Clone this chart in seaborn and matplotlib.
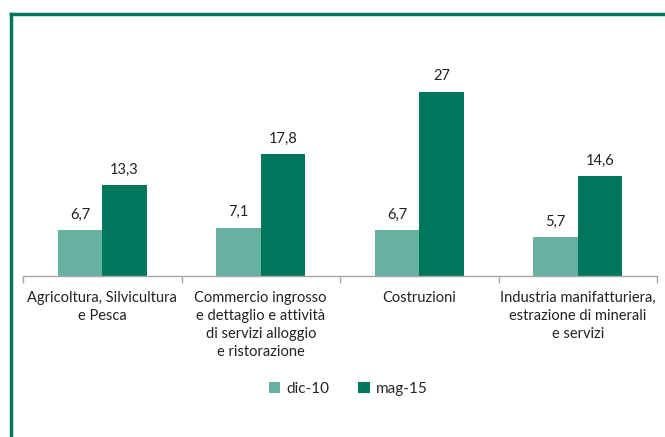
import matplotlib
matplotlib.use('Agg')
import matplotlib.pyplot as plt
from matplotlib.lines import Line2D
import seaborn as sns
import pandas as pd

# chart data
categories = [
    "Agricoltura, Silvicultura\ne Pesca",
    "Commercio ingrosso\ne dettaglio e attività\ndi servizi alloggio\ne ristorazione",
    "Costruzioni",
    "Industria manifatturiera,\nestrazione di minerali\ne servizi",
]
series_names = ["dic-10", "mag-15"]
dic10 = [6.7, 7.1, 6.7, 5.7]
mag15 = [13.3, 17.8, 27, 14.6]
colors = ["#66b1a0", "#00775d"]

df = pd.DataFrame({
    "categoria": categories * 2,
    "periodo": [series_names[0]] * 4 + [series_names[1]] * 4,
    "valore": dic10 + mag15,
})

sns.set_style("white")
plt.rcParams['font.family'] = ['Lato', 'DejaVu Sans']

W, H = 665, 437
fig = plt.figure(figsize=(W / 100, H / 100), dpi=100)
ax = fig.add_axes([23 / W, (H - 276) / H, (657 - 23) / W, (276 - 37) / H])

sns.barplot(data=df, x="categoria", y="valore", hue="periodo",
            palette=colors, width=0.56, gap=0, saturation=1,
            edgecolor="none", ax=ax)

for cont in ax.containers:
    ax.bar_label(cont, labels=[f"{v:g}".replace(".", ",") for v in cont.datavalues],
                 padding=6, fontsize=10.5, color="#222222")

ax.set_ylim(0, 35)
ax.set_xlim(-0.5, 3.5)
ax.set_xlabel("")
ax.set_ylabel("")
ax.set_yticks([])
for s in ["top", "right", "left"]:
    ax.spines[s].set_visible(False)
ax.spines["bottom"].set_color("#a6a6a6")
ax.spines["bottom"].set_linewidth(1)

# category labels on major ticks, separator ticks on minor
ax.set_xticks(range(4))
ax.set_xticklabels(categories, fontsize=10.5, color="#222222", linespacing=1.35)
ax.tick_params(axis="x", which="major", length=0, pad=11)
ax.set_xticks([-0.5, 0.5, 1.5, 2.5, 3.5], minor=True)
ax.tick_params(axis="x", which="minor", length=5, color="#a6a6a6", width=1, bottom=True)

ax.legend(loc="center", bbox_to_anchor=(348 / W, 1 - 389 / H),
          bbox_transform=fig.transFigure, ncol=2, frameon=False,
          handlelength=0.75, handleheight=0.75, handletextpad=0.4,
          columnspacing=1.9, fontsize=11, title=None)

# green frame on top and left
fig.add_artist(Line2D([10.5 / W, 10.5 / W], [0, 1 - 14 / H],
                      transform=fig.transFigure, color="#00775d", lw=2.5,
                      solid_capstyle="projecting"))
fig.add_artist(Line2D([10.5 / W, 1], [1 - 14 / H, 1 - 14 / H],
                      transform=fig.transFigure, color="#00775d", lw=2.5,
                      solid_capstyle="projecting"))

fig.savefig("out.png", dpi=100)
